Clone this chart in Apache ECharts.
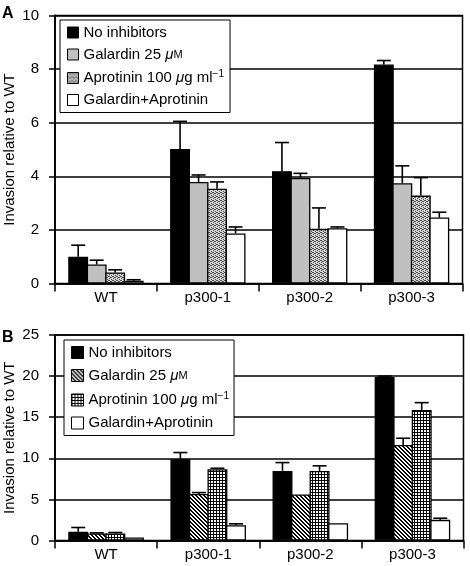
<!DOCTYPE html>
<html><head><meta charset="utf-8">
<script src="https://cdn.jsdelivr.net/npm/echarts@6/dist/echarts.min.js"></script>
<style>html,body{margin:0;padding:0;background:#fff}#c{width:470px;height:566px}</style>
</head><body><div id="c"></div>
<script>
const categories = ['WT', 'p300-1', 'p300-2', 'p300-3'];
const seriesNames = ['No inhibitors', 'Galardin 25 μM', 'Aprotinin 100 μg ml−1', 'Galardin+Aprotinin'];
const yTicksA = [0, 2, 4, 6, 8, 10];
const yTicksB = [0, 5, 10, 15, 20, 25];
const yTitle = 'Invasion relative to WT';

// Panel A values and upward error (SD)
const noInhA = [1.00, 5.02, 4.19, 8.17];
const noInhAErr = [0.43, 1.03, 1.07, 0.15];
const galA = [0.71, 3.79, 3.94, 3.74];
const galAErr = [0.16, 0.26, 0.17, 0.65];
const aprA = [0.41, 3.54, 2.04, 3.28];
const aprAErr = [0.10, 0.25, 0.78, 0.67];
const comboA = [0.10, 1.87, 2.06, 2.46];
const comboAErr = [0.04, 0.24, 0.05, 0.20];

// Panel B values and upward error (SD)
const noInhB = [1.06, 9.89, 8.47, 19.90];
const noInhBErr = [0.52, 0.81, 1.01, 0.10];
const galB = [0.85, 5.67, 5.59, 11.63];
const galBErr = [0.08, 0.16, 0.00, 0.81];
const aprB = [0.85, 8.67, 8.47, 15.88];
const aprBErr = [0.12, 0.12, 0.61, 0.89];
const comboB = [0.36, 1.86, 2.10, 2.51];
const comboBErr = [0.00, 0.17, 0.00, 0.20];

const FONT = 'Liberation Sans, Arial, Helvetica, sans-serif';

function makePattern(size, draw) {
  const c = document.createElement('canvas');
  c.width = size; c.height = size;
  const ctx = c.getContext('2d');
  draw(ctx);
  return { image: c, repeat: 'repeat' };
}
const stipple = makePattern(4, ctx => {
  ctx.fillStyle = '#d6d6d6'; ctx.fillRect(0, 0, 4, 4);
  ctx.fillStyle = '#4a4a4a';
  [[0,0],[2,1],[1,2],[3,3],[3,1],[1,0]].forEach(p => ctx.fillRect(p[0], p[1], 1, 1));
});
const hatch = makePattern(4, ctx => {
  ctx.fillStyle = '#fff'; ctx.fillRect(0, 0, 4, 4);
  ctx.fillStyle = '#000';
  for (let i = 0; i < 4; i++) { ctx.fillRect(i, i, 1, 1); ctx.fillRect((i + 1) % 4, i, 1, 1); }
});
const gridPat = makePattern(3, ctx => {
  ctx.fillStyle = '#fff'; ctx.fillRect(0, 0, 3, 3);
  ctx.fillStyle = '#000';
  ctx.fillRect(0, 0, 3, 1); ctx.fillRect(0, 0, 1, 3);
});

const fillsA = ['#000', '#c0c0c0', stipple, '#fff'];
const fillsB = ['#000', hatch, gridPat, '#fff'];
const valsA = [noInhA, galA, aprA, comboA];
const errsA = [noInhAErr, galAErr, aprAErr, comboAErr];
const valsB = [noInhB, galB, aprB, comboB];
const errsB = [noInhBErr, galBErr, aprBErr, comboBErr];

const GAP = 0.26;
const BARGAP = -0.07;
const nameA = n => n;
const nameB = n => n + '\u200b';

function barSeries(vals, fills, gi, nm) {
  return vals.map((v, i) => ({
    type: 'bar', name: nm(seriesNames[i]), xAxisIndex: gi, yAxisIndex: gi,
    data: v, barGap: (BARGAP * 100) + '%', barCategoryGap: (GAP * 100) + '%',
    itemStyle: { color: fills[i], borderColor: '#000', borderWidth: 1.3 },
    emphasis: { disabled: true }, animation: false, z: 2
  }));
}
function errSeries(vals, errs, gi) {
  const data = [];
  vals.forEach((v, s) => v.forEach((val, c) => {
    if (errs[s][c] > 0) data.push([c, val, val + errs[s][c], s]);
  }));
  return {
    type: 'custom', xAxisIndex: gi, yAxisIndex: gi, data: data, z: 5, silent: true,
    encode: { x: 0, y: [1, 2] }, animation: false,
    renderItem: function (params, api) {
      const c = api.value(0), s = api.value(3);
      const b = api.coord([c, api.value(1)]);
      const t = api.coord([c, api.value(2)]);
      const catW = api.size([1, 0])[0];
      const n = 4;
      const barW = catW * (1 - GAP) / (n + (n - 1) * BARGAP);
      const step = barW * (1 + BARGAP);
      const total = barW * n + barW * BARGAP * (n - 1);
      const x = b[0] - total / 2 + step * s + barW / 2;
      const cap = 14;
      const st = { stroke: '#000', lineWidth: 1.6 };
      return { type: 'group', children: [
        { type: 'line', shape: { x1: x, y1: b[1], x2: x, y2: t[1] }, style: st },
        { type: 'line', shape: { x1: x - cap / 2, y1: t[1], x2: x + cap / 2, y2: t[1] }, style: st }
      ] };
    }
  };
}

function legendFmt(name) {
  const n = name.replace('\u200b', '');
  if (n === seriesNames[1]) return 'Galardin 25 {it|μ}{sm|M}';
  if (n === seriesNames[2]) return 'Aprotinin 100 {it|μ}g ml{sup|−1}';
  return n;
}
const rich = {
  it: { fontStyle: 'italic', fontSize: 15, fontFamily: FONT, color: '#000' },
  sm: { fontSize: 11, fontFamily: FONT, color: '#000' },
  sup: { fontSize: 10, fontFamily: FONT, color: '#000', padding: [0, 0, 8, 0] }
};

function xAx(gi) {
  return {
    type: 'category', gridIndex: gi, data: categories,
    axisLine: { lineStyle: { color: '#000', width: 1.5 } },
    axisTick: { show: true, length: 8, lineStyle: { color: '#000', width: 1.5 } },
    axisLabel: { color: '#000', fontSize: 15, fontFamily: FONT, margin: 7 },
    splitLine: { show: false }
  };
}
function yAx(gi, ticks) {
  return {
    type: 'value', gridIndex: gi, min: ticks[0], max: ticks[ticks.length - 1],
    interval: ticks[1] - ticks[0],
    name: yTitle, nameLocation: 'middle', nameGap: 38, nameMoveOverlap: false,
    nameTextStyle: { color: '#000', fontSize: 15, fontFamily: FONT },
    axisLine: { show: true, lineStyle: { color: '#000', width: 1.8 } },
    axisTick: { show: true, length: 6, lineStyle: { color: '#000', width: 1.5 } },
    axisLabel: { color: '#000', fontSize: 15, fontFamily: FONT, margin: 16 },
    splitLine: { show: true, lineStyle: { color: '#000', width: 1.5 } }
  };
}

const chart = echarts.init(document.getElementById('c'), null, { renderer: 'canvas' });
chart.setOption({
  backgroundColor: '#fff',
  animation: false,
  title: [
    { text: 'A', left: 2, top: 6, padding: 0, textStyle: { fontSize: 16, fontWeight: 'bold', color: '#000', fontFamily: FONT } },
    { text: 'B', left: 2, top: 330, padding: 0, textStyle: { fontSize: 16, fontWeight: 'bold', color: '#000', fontFamily: FONT } }
  ],
  grid: [
    { left: 55, right: 7.5, top: 15.5, height: 268, show: true, borderColor: '#000', borderWidth: 1.5, backgroundColor: '#fff', containLabel: false, outerBoundsMode: 'none' },
    { left: 55, right: 6.5, top: 335, height: 205.5, show: true, borderColor: '#000', borderWidth: 1.5, backgroundColor: '#fff', containLabel: false, outerBoundsMode: 'none' }
  ],
  xAxis: [xAx(0), xAx(1)],
  yAxis: [yAx(0, yTicksA), yAx(1, yTicksB)],
  legend: [
    {
      data: seriesNames.map(nameA), orient: 'vertical', left: 60, top: 20,
      padding: [5, 6, 5, 7], itemGap: 7, itemWidth: 11, itemHeight: 11, icon: 'rect',
      backgroundColor: '#fff', borderColor: '#000', borderWidth: 1, selectedMode: false,
      itemStyle: { borderColor: '#000', borderWidth: 1 },
      formatter: legendFmt,
      textStyle: { color: '#000', fontSize: 15, fontFamily: FONT, rich: rich }
    },
    {
      data: seriesNames.map(nameB), orient: 'vertical', left: 64, top: 340,
      padding: [5, 5, 5, 7], itemGap: 8, itemWidth: 12, itemHeight: 12, icon: 'rect',
      backgroundColor: '#fff', borderColor: '#000', borderWidth: 1, selectedMode: false,
      itemStyle: { borderColor: '#000', borderWidth: 1 },
      formatter: legendFmt,
      textStyle: { color: '#000', fontSize: 15, fontFamily: FONT, rich: rich }
    }
  ],
  series: [].concat(
    barSeries(valsA, fillsA, 0, nameA),
    barSeries(valsB, fillsB, 1, nameB),
    [errSeries(valsA, errsA, 0), errSeries(valsB, errsB, 1)]
  )
});
</script></body></html>
